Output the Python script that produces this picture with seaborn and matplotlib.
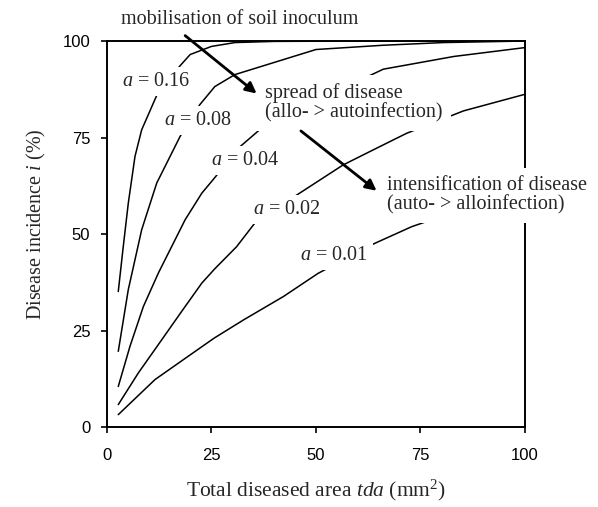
import matplotlib
matplotlib.use("Agg")
import matplotlib.pyplot as plt
import seaborn as sns

# ---- data ----
tda_016 = [2.7, 3.9, 5.1, 6.7, 8.3, 12.3, 17.5, 19.9, 25.0, 30.6, 40.0, 60.0, 100.0]
inc_016 = [35.1, 46.8, 58.0, 70.1, 77.0, 86.9, 93.6, 96.5, 98.6, 99.6, 99.9, 100.0, 100.0]

tda_008 = [2.7, 5.1, 8.3, 11.9, 17.5, 22.2, 25.8, 30.6, 50.0, 66.0, 80.5, 100.0]
inc_008 = [19.6, 35.6, 51.1, 63.2, 75.3, 83.5, 88.2, 91.3, 97.8, 98.9, 99.6, 100.0]

tda_004 = [2.7, 5.5, 8.7, 12.3, 18.7, 22.7, 25.4, 31.8, 37.8, 66.1, 83.0, 100.0]
inc_004 = [10.5, 20.9, 31.2, 39.9, 53.7, 60.6, 64.1, 72.6, 78.2, 92.7, 96.0, 98.3]

tda_002 = [2.7, 7.5, 13.1, 17.9, 22.7, 25.8, 31.0, 36.2, 45.4, 56.5, 63.7, 71.7, 85.3, 100.0]
inc_002 = [5.8, 14.0, 22.6, 30.0, 37.3, 41.0, 46.7, 54.0, 60.1, 67.9, 71.8, 76.1, 81.9, 86.2]

tda_001 = [2.7, 11.5, 19.4, 25.6, 32.6, 42.2, 50.5, 64.1, 72.9, 100.0]
inc_001 = [3.2, 12.3, 18.3, 23.0, 27.7, 33.8, 39.8, 47.6, 51.9, 62.0]

curves = [(tda_016, inc_016), (tda_008, inc_008), (tda_004, inc_004),
          (tda_002, inc_002), (tda_001, inc_001)]

curve_labels = [r"$a$ = 0.16", r"$a$ = 0.08", r"$a$ = 0.04", r"$a$ = 0.02", r"$a$ = 0.01"]
label_x = [11.7, 21.7, 33.0, 43.0, 54.3]
label_y = [89.5, 79.3, 69.0, 56.4, 44.4]

x_ticks = [0, 25, 50, 75, 100]
y_ticks = [0, 25, 50, 75, 100]

# ---- style ----
sns.set_style("ticks")
plt.rcParams["font.family"] = ["Liberation Sans", "DejaVu Sans"]
plt.rcParams["mathtext.fontset"] = "custom"
plt.rcParams["mathtext.rm"] = "Liberation Serif"
plt.rcParams["mathtext.it"] = "Liberation Serif:italic"

serif = ["Liberation Serif", "DejaVu Serif"]

fig = plt.figure(figsize=(5.98, 5.07), dpi=100)
ax = fig.add_axes([0.1789, 0.1578, 0.699, 0.7613])

for xs, ys in curves:
    sns.lineplot(x=xs, y=ys, ax=ax, color="black", lw=1.1, sort=False,
                 estimator=None, zorder=2)

ax.set_xlim(0, 100)
ax.set_ylim(0, 100)
ax.set_xticks(x_ticks)
ax.set_yticks(y_ticks)
ax.tick_params(axis="both", direction="out", length=4, width=1.2,
               labelsize=12, colors="black")
ax.tick_params(axis="x", pad=11)
ax.tick_params(axis="y", pad=8)
for s in ax.spines.values():
    s.set_linewidth(1.4)
    s.set_color("black")

ax.set_xlabel(r"Total diseased area $\it{tda}$ (mm$^2$)", family=serif,
              fontsize=15.5, va="center")
ax.xaxis.set_label_coords(0.5, -0.163)
ax.set_ylabel(r"Disease incidence $\it{i}$ (%)", family=serif,
              fontsize=14.5, va="center")
ax.yaxis.set_label_coords(-0.168, 0.526)

box = dict(boxstyle="square,pad=0.25", fc="white", ec="none")
for lab, lx, ly in zip(curve_labels, label_x, label_y):
    ax.text(lx, ly, lab, family=serif, fontsize=14.5, ha="center", va="center",
            bbox=box, zorder=3)

ax.text(31.8, 105.6, "mobilisation of soil inoculum", family=serif, fontsize=14.5,
        ha="center", va="center", clip_on=False, zorder=3)
ax.text(37.8, 84.0, "spread of disease\n(allo- > autoinfection)", family=serif,
        fontsize=14.5, ha="left", va="center", linespacing=1.05,
        bbox=dict(boxstyle="square,pad=0.4", fc="white", ec="none"), zorder=3)
ax.text(66.9, 60.0, "intensification of disease\n(auto- > alloinfection)",
        family=serif, fontsize=14.5, ha="left", va="center", linespacing=1.05,
        bbox=dict(boxstyle="square,pad=0.4", fc="white", ec="none"),
        clip_on=False, zorder=3)

arrow = dict(arrowstyle="-|>", lw=2.0, color="black", mutation_scale=16,
             shrinkA=0, shrinkB=0)
ax.annotate("", xy=(35.8, 86.4), xytext=(18.7, 101.4), arrowprops=arrow,
            annotation_clip=False, zorder=5)
ax.annotate("", xy=(64.5, 61.2), xytext=(46.4, 76.7), arrowprops=arrow,
            annotation_clip=False, zorder=5)

fig.savefig("out.png", dpi=100)
